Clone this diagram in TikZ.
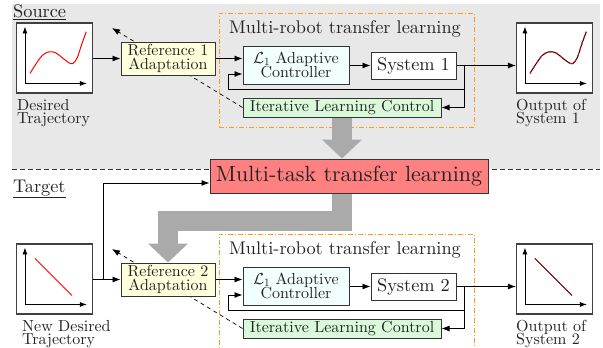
\RequirePackage{fix-cm}
\documentclass[tikz,border=0pt]{standalone}
\usepackage{fontspec}
\setmainfont{lmroman10-regular}[Extension=.otf]
\usetikzlibrary{arrows.meta,calc}

\definecolor{bggray}{HTML}{E8E8E8}
\definecolor{refyellow}{HTML}{FFFFDC}
\definecolor{lcyan}{HTML}{F2FFFF}
\definecolor{ilcgreen}{HTML}{DAF8DA}
\definecolor{mtlred}{HTML}{FF8080}
\definecolor{thickgray}{HTML}{AAAAAA}
\definecolor{dorange}{HTML}{FF9A1A}
\definecolor{txt}{HTML}{222222}

\tikzset{
  box/.style={draw=black!80, line width=1pt, inner sep=0pt, text=txt, align=center},
  plotbox/.style={draw=black!75, line width=1.1pt, fill=white, minimum width=76pt, minimum height=70pt, inner sep=0pt},
  fsmall/.style={font={\fontsize{16}{13.5}\selectfont\lineskiplimit=-20pt}},
  fctl/.style={font={\fontsize{16}{14.5}\selectfont\lineskiplimit=-20pt}},
  fmid/.style={font={\fontsize{18.3}{20}\selectfont}},
  fbig/.style={font={\fontsize{22}{24}\selectfont}},
  lbl/.style={fsmall, text=txt, inner sep=0pt, align=left, anchor=north west},
  arr/.style={draw=black, line width=0.9pt, -{Latex[length=8pt,width=6pt]}},
  dasharr/.style={draw=black, line width=0.7pt, dash pattern=on 4pt off 3.5pt, -{Latex[length=8pt,width=6pt]}},
  groupbox/.style={draw=dorange, line width=0.9pt, dash pattern=on 5pt off 2pt on 1pt off 2pt, minimum width=255pt, minimum height=114pt, inner sep=0pt},
  garrow/.style={draw=thickgray, line width=20pt, -{Triangle[length=19pt,width=39pt]}},
  axarr/.style={draw=black, line width=0.9pt, -{Latex[length=7pt,width=5pt]}},
  axes/.pic={
    \draw[axarr] (9,61) -- (9,4);
    \draw[axarr] (9,61) -- (71,61);
  },
  cubic/.pic={
    \draw[pic actions] plot[smooth, tension=0.55] coordinates {(14,51) (19.7,42) (26.3,33) (33,29.3) (39.7,30.3) (46.3,35.3) (53,40.3) (57,41) (61.3,35.3) (65.7,22) (70.3,9.3)};
  },
  diag/.pic={
    \draw[pic actions] (19,15) -- (56,52);
  },
}

\begin{document}
\begin{tikzpicture}[x=1pt,y=-1pt]
\useasboundingbox (0,0) rectangle (603,348);

% source background and separator
\fill[bggray] (12,4) rectangle (600,169);
\draw[black!80, line width=0.8pt, dash pattern=on 5pt off 3pt] (12,169) -- (600,169);

% section titles
\node[fmid, text=txt, inner sep=0pt, anchor=base west] (src) at (13,17) {\underline{Source}};
\node[fmid, text=txt, inner sep=0pt, anchor=base west] (tgt) at (13,192) {\underline{Target}};

% ===== Source =====
\node[groupbox] (grp1) at (346.5,70) {};
\node[fmid, text=txt, inner sep=0pt, anchor=base west] (grp1t) at (229,33) {Multi-robot transfer learning};

\node[box, fsmall, fill=ilcgreen, minimum width=198pt, minimum height=19pt] (ilc1) at (342,107.5) {Iterative Learning Control};
\coordinate (tip1) at (112,28);
\draw[dasharr] (ilc1.west) -- (tip1);

\node[plotbox] (traj1) at (54.5,58) {};
\pic at (traj1.north west) {axes};
\pic[red, line width=1pt] at (traj1.north west) {cubic};
\node[lbl] (traj1l) at (17,99) {Desired\\Trajectory};

\node[plotbox] (out1) at (554.5,58) {};
\pic at (out1.north west) {axes};
\pic[black, line width=1pt] at (out1.north west) {cubic};
\pic[red, line width=1pt, dash pattern=on 3pt off 3pt] at (out1.north west) {cubic};
\node[lbl] (out1l) at (516,99) {Output of\\System 1};

\node[box, fsmall, fill=refyellow, minimum width=94pt, minimum height=33pt] (ref1) at (168,58.5) {Reference 1\\Adaptation};
\node[box, fctl, fill=lcyan, minimum width=106pt, minimum height=38pt] (l1a) at (296,65) {$\mathcal{L}_1$ Adaptive\\Controller};
\node[box, fmid, fill=white, minimum width=85pt, minimum height=27pt] (sys1) at (413.5,65.5) {System 1};

\draw[arr] (traj1.east |- ref1.west) -- (ref1.west);
\draw[arr] (ref1.east) -- (ref1.east -| l1a.west);
\draw[arr] (l1a.east |- sys1.west) -- (sys1.west);
\draw[arr] (sys1.east) -- (sys1.east -| out1.west);
\coordinate (br1) at ($(sys1.east)+(8,0)$);
\draw[arr] (br1) |- (ilc1.east);
\draw[arr] (br1) -- ($(br1)+(0,23.5)$) -| ($(l1a.west)+(-14,9)$) -- ($(l1a.west)+(0,9)$);

% ===== Multi-task =====
\node[box, fbig, fill=mtlred, minimum width=278pt, minimum height=34pt] (mtl) at (349,176) {Multi-task transfer learning};

% ===== Target =====
\node[groupbox] (grp2) at (346.5,291) {};
\node[fmid, text=txt, inner sep=0pt, anchor=base west] (grp2t) at (229,254) {Multi-robot transfer learning};

\node[box, fsmall, fill=ilcgreen, minimum width=198pt, minimum height=19pt] (ilc2) at (342,328.5) {Iterative Learning Control};
\coordinate (tip2) at (112,249);
\draw[dasharr] (ilc2.west) -- (tip2);

\node[plotbox] (traj2) at (54.5,279) {};
\pic at (traj2.north west) {axes};
\pic[red, line width=1pt] at (traj2.north west) {diag};
\node[lbl] (traj2l) at (22,320) {New Desired\\Trajectory};

\node[plotbox] (out2) at (554.5,279) {};
\pic at (out2.north west) {axes};
\pic[black, line width=1pt] at (out2.north west) {diag};
\pic[red, line width=1pt, dash pattern=on 3pt off 3pt] at (out2.north west) {diag};
\node[lbl] (out2l) at (516,320) {Output of\\System 2};

\node[box, fsmall, fill=refyellow, minimum width=94pt, minimum height=33pt] (ref2) at (168,279.5) {Reference 2\\Adaptation};
\node[box, fctl, fill=lcyan, minimum width=106pt, minimum height=38pt] (l1b) at (296,286) {$\mathcal{L}_1$ Adaptive\\Controller};
\node[box, fmid, fill=white, minimum width=85pt, minimum height=27pt] (sys2) at (413.5,286.5) {System 2};

\draw[arr] (traj2.east |- ref2.west) -- (ref2.west);
\coordinate (j2) at ($(traj2.east |- ref2.west)+(10,0)$);
\draw[arr] (j2) |- ($(mtl.west)+(0,7)$);
\draw[arr] (ref2.east) -- (ref2.east -| l1b.west);
\draw[arr] (l1b.east |- sys2.west) -- (sys2.west);
\draw[arr] (sys2.east) -- (sys2.east -| out2.west);
\coordinate (br2) at ($(sys2.east)+(8,0)$);
\draw[arr] (br2) |- (ilc2.east);
\draw[arr] (br2) -- ($(br2)+(0,23.5)$) -| ($(l1b.west)+(-14,9)$) -- ($(l1b.west)+(0,9)$);

% ===== thick gray transfer arrows =====
\draw[garrow] (ilc1.south) -- (ilc1.south |- mtl.north);
\draw[garrow] (mtl.south -| ilc1.south) -- ++(0,27) -| (ref2.north);
\end{tikzpicture}
\end{document}
